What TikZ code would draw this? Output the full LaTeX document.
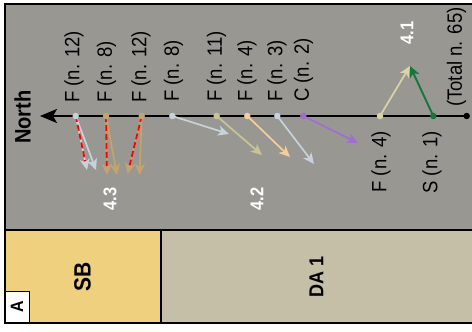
\documentclass[tikz,border=0pt]{standalone}
\usepackage{fontspec}
\setmainfont{Liberation Sans}
\usetikzlibrary{arrows.meta}

\definecolor{panelgray}{RGB}{153,151,146}
\definecolor{sbyellow}{RGB}{239,208,126}
\definecolor{dabeige}{RGB}{197,191,168}
\definecolor{cblue}{RGB}{200,210,218}
\definecolor{ctan}{RGB}{196,164,108}
\definecolor{ckhaki}{RGB}{200,196,148}
\definecolor{cpeach}{RGB}{246,206,150}
\definecolor{cpurple}{RGB}{158,110,210}
\definecolor{cbeige}{RGB}{218,212,170}
\definecolor{cgreen}{RGB}{20,118,62}

% glyphs are set slightly taller than wide
\newcommand{\tallglyphs}[1]{\scalebox{1}[1.12]{#1}}

\tikzset{
  lab/.style={font=\fontsize{18.5}{22}\selectfont, rotate=90, inner sep=0pt},
  num/.style={font=\fontsize{16.5}{19}\selectfont\bfseries, text=white, rotate=90, inner sep=0pt},
  big/.style={font=\fontsize{20}{24}\selectfont\bfseries, rotate=90, inner sep=0pt},
  dot/.style={circle, inner sep=0pt, minimum size=6.5pt},
  vec/.style={line width=1.7pt, -{Stealth[length=11pt, width=10pt, inset=3pt]}},
  reddash/.style={red, line width=1.8pt, dash pattern=on 6pt off 3pt, shorten >=9pt},
}

\begin{document}
\begin{tikzpicture}[x=1pt, y=-1pt]
\useasboundingbox (0,0) rectangle (472,332);
\fill[white] (0,0) rectangle (472,332);

% panels
\fill[panelgray] (4.5,3.7) rectangle (478,230);
\fill[sbyellow] (4.5,230) rectangle (160.5,322.7);
\fill[dabeige] (160.5,230) rectangle (478,322.7);
\draw[line width=2pt] (4.5,3.7) rectangle (478,322.7);
\draw[line width=2pt] (4.5,230) -- (478,230);
\draw[line width=2pt] (160.5,230) -- (160.5,322.7);

\node[draw, fill=white, line width=0.8pt, minimum width=24pt, minimum height=31pt,
      inner sep=0pt, anchor=south west] (abox) at (4.5,322.7) {};
\node[font=\fontsize{16}{19}\selectfont\bfseries, rotate=90, inner sep=0pt] (alab) at (abox.center) {\tallglyphs{A}};
\node[font=\fontsize{21}{25}\selectfont\bfseries, rotate=90, inner sep=0pt] (sb) at (82.5,277) {\tallglyphs{SB}};
\node[font=\fontsize{18}{22}\selectfont\bfseries, rotate=90, inner sep=0pt] (da) at (316.5,277) {\tallglyphs{DA 1}};

% axis
\coordinate (axtip) at (40,116);
\coordinate (axend) at (466.7,116);
\draw[line width=2pt, -{Stealth[length=17pt, width=14pt, inset=4pt]}] (axend) -- (axtip);
\node[dot, fill=black] (endpt) at (axend) {};
\node[big] (north) at (22.5,117) {\tallglyphs{North}};

% station points on the axis
\coordinate (p1) at (75.7,116);
\coordinate (p2) at (106,116);
\coordinate (p3) at (141.7,116);
\coordinate (p4) at (172.3,116);
\coordinate (p5) at (216.7,116);
\coordinate (p6) at (247.3,116);
\coordinate (p7) at (277.3,116);
\coordinate (p8) at (303.3,116);
\coordinate (p9) at (380,116);
\coordinate (p10) at (433.3,116);

% arrow tips
\coordinate (t1a) at (87,170);
\coordinate (t1b) at (96,170);
\coordinate (t2a) at (107,175);
\coordinate (t2b) at (117,175);
\coordinate (t3a) at (127.5,174);
\coordinate (t3b) at (139.5,175);
\coordinate (t4) at (229,134);
\coordinate (t5) at (262,155);
\coordinate (t6) at (290,157);
\coordinate (t7) at (314,164);
\coordinate (t8) at (358,143);
\coordinate (t9) at (410,66);

% vectors
\draw[vec, cblue] (p1) -- (t1b);
\draw[vec, cblue] (p1) -- (t1a);
\draw[reddash] (p1) -- (t1a);
\draw[vec, ctan] (p2) -- (t2b);
\draw[vec, ctan] (p2) -- (t2a);
\draw[reddash] (p2) -- (t2a);
\draw[vec, ctan] (p3) -- (t3b);
\draw[vec, ctan] (p3) -- (t3a);
\draw[reddash] (p3) -- (t3a);
\draw[vec, cblue] (p4) -- (t4);
\draw[vec, ckhaki] (p5) -- (t5);
\draw[vec, cpeach] (p6) -- (t6);
\draw[vec, cblue] (p7) -- (t7);
\draw[vec, cpurple] (p8) -- (t8);
\draw[vec, cbeige] (p9) -- (t9);
\draw[vec, cgreen, line width=1.9pt] (p10) -- (t9);

% points
\node[dot, fill=cblue] (d1) at (p1) {};
\node[dot, fill=ctan] (d2) at (p2) {};
\node[dot, fill=ctan] (d3) at (p3) {};
\node[dot, fill=cblue] (d4) at (p4) {};
\node[dot, fill=ckhaki] (d5) at (p5) {};
\node[dot, fill=cpeach] (d6) at (p6) {};
\node[dot, fill=cblue] (d7) at (p7) {};
\node[dot, fill=cpurple] (d8) at (p8) {};
\node[dot, fill=cbeige] (d9) at (p9) {};
\node[dot, fill=cgreen] (d10) at (p10) {};

% labels
\node[lab, anchor=west] (l1) at (74,103) {\tallglyphs{F (n. 12)}};
\node[lab, anchor=west] (l2) at (106.5,103) {\tallglyphs{F (n. 8)}};
\node[lab, anchor=west] (l3) at (141,103) {\tallglyphs{F (n. 12)}};
\node[lab, anchor=west] (l4) at (173.5,102) {\tallglyphs{F (n. 8)}};
\node[lab, anchor=west] (l5) at (216.5,102) {\tallglyphs{F (n. 11)}};
\node[lab, anchor=west] (l6) at (247,102) {\tallglyphs{F (n. 4)}};
\node[lab, anchor=west] (l7) at (277,102) {\tallglyphs{F (n. 3)}};
\node[lab, anchor=west] (l8) at (303.5,102) {\tallglyphs{C (n. 2)}};
\node[lab, anchor=west] (l11) at (456.5,107) {\tallglyphs{(Total n. 65)}};
\node[lab, anchor=east] (l9) at (381,131) {\tallglyphs{F (n. 4)}};
\node[lab, anchor=east] (l10) at (432,131) {\tallglyphs{S (n. 1)}};

\node[num] (g1) at (407,33) {\tallglyphs{4.1}};
\node[num] (g2) at (257,199) {\tallglyphs{4.2}};
\node[num] (g3) at (110,199) {\tallglyphs{4.3}};
\end{tikzpicture}
\end{document}
